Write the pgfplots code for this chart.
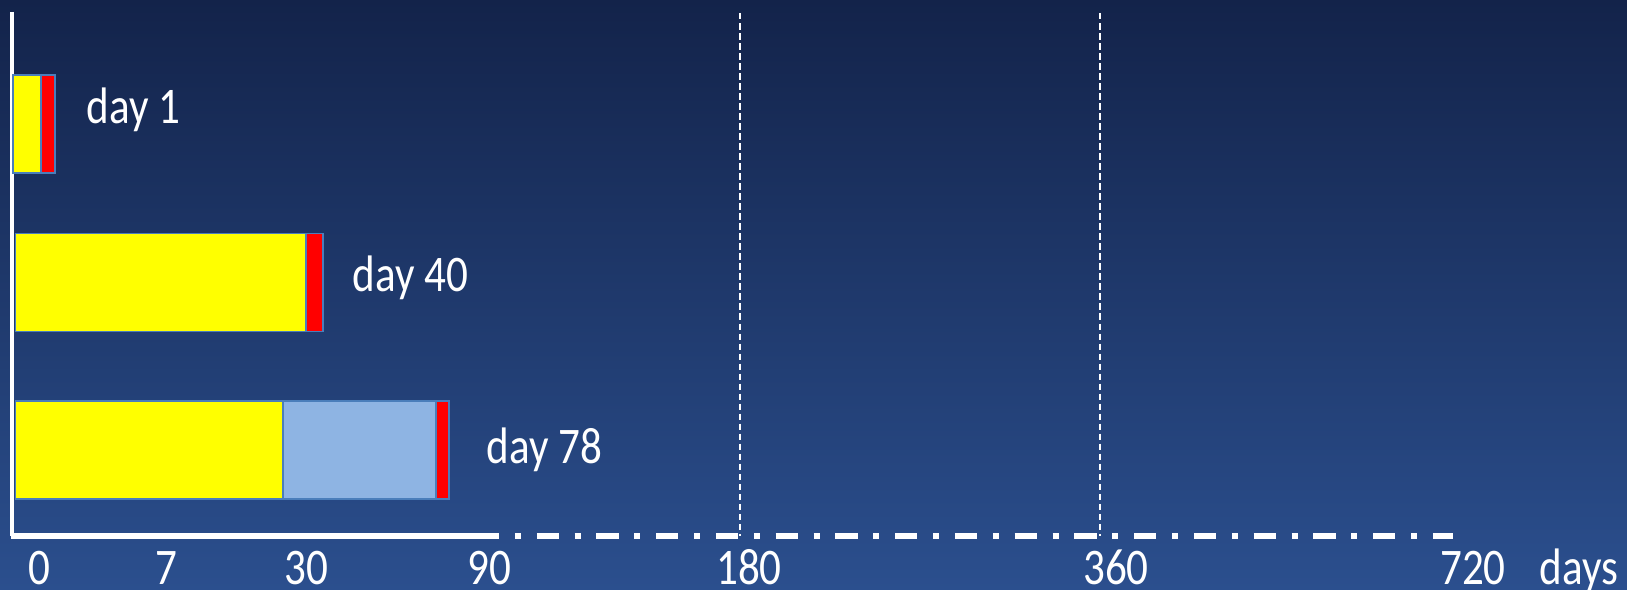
\documentclass[border=0pt]{standalone}
\usepackage{pgfplots}
\pgfplotsset{compat=1.18}
\usepackage{fontspec}
\setmainfont{Carlito}[FakeStretch=0.84]

\definecolor{bgtop}{HTML}{13234A}
\definecolor{bgbot}{HTML}{2B4F8E}
\definecolor{barline}{HTML}{4A7EBB}
\definecolor{phaseA}{HTML}{FFFF00}
\definecolor{phaseB}{HTML}{8EB4E3}
\definecolor{phaseC}{HTML}{FF0000}

\tikzset{lbl/.style={text=white, inner sep=0pt, font=\fontsize{14.6}{17}\selectfont}}

\begin{document}
\begin{tikzpicture}
\begin{axis}[
  width=16.27cm, height=5.9cm, scale only axis,
  xmin=-12, xmax=1615, ymin=0, ymax=590, y dir=reverse,
  axis line style={draw=none}, xtick=\empty, ytick=\empty,
  axis background/.style={top color=bgtop, bottom color=bgbot},
  xbar stacked, bar width=98,
  clip=false,
  every axis plot/.append style={draw=barline, line width=0.4pt},
]
% offset of each bar from the vertical axis
\addplot[draw=none, fill=none] coordinates {(1,124) (3.5,282.5) (3.5,450)};
% stacked phases
\addplot[fill=phaseA] coordinates {(28,124) (290.5,282.5) (267.5,450)};
\addplot[fill=phaseB] coordinates {(0,124) (0,282.5) (153,450)};
\addplot[fill=phaseC] coordinates {(14,124) (17,282.5) (13,450)};

% axes
\draw[white, line width=1.3pt] (axis cs:0,12) -- (axis cs:0,536.5);
\draw[white, line width=1.5pt] (axis cs:-0.6,536) -- (axis cs:465,536);
\draw[white, line width=1.5pt, dash pattern=on 6.3pt off 4.5pt on 1.7pt off 4.5pt]
  (axis cs:465,536) -- (axis cs:1441,536);
\draw[white, line width=0.7pt, dash pattern=on 1.85pt off 1pt] (axis cs:728,13) -- (axis cs:728,536);
\draw[white, line width=0.7pt, dash pattern=on 1.85pt off 1pt] (axis cs:1088,13) -- (axis cs:1088,536);

% bar labels
\node[lbl, anchor=base west] at (axis cs:74,124) {day 1};
\node[lbl, anchor=base west] at (axis cs:340,291.7) {day 40};
\node[lbl, anchor=base west] at (axis cs:474,464) {day 78};

% time scale labels
\node[lbl, anchor=base] at (axis cs:27,585) {0};
\node[lbl, anchor=base] at (axis cs:154,585) {7};
\node[lbl, anchor=base] at (axis cs:294,585) {30};
\node[lbl, anchor=base] at (axis cs:477,585) {90};
\node[lbl, anchor=base] at (axis cs:737,585) {180};
\node[lbl, anchor=base] at (axis cs:1104,585) {360};
\node[lbl, anchor=base] at (axis cs:1461,585) {720};
\node[lbl, anchor=base west] at (axis cs:1527,585) {days};
\end{axis}
\end{tikzpicture}
\end{document}
